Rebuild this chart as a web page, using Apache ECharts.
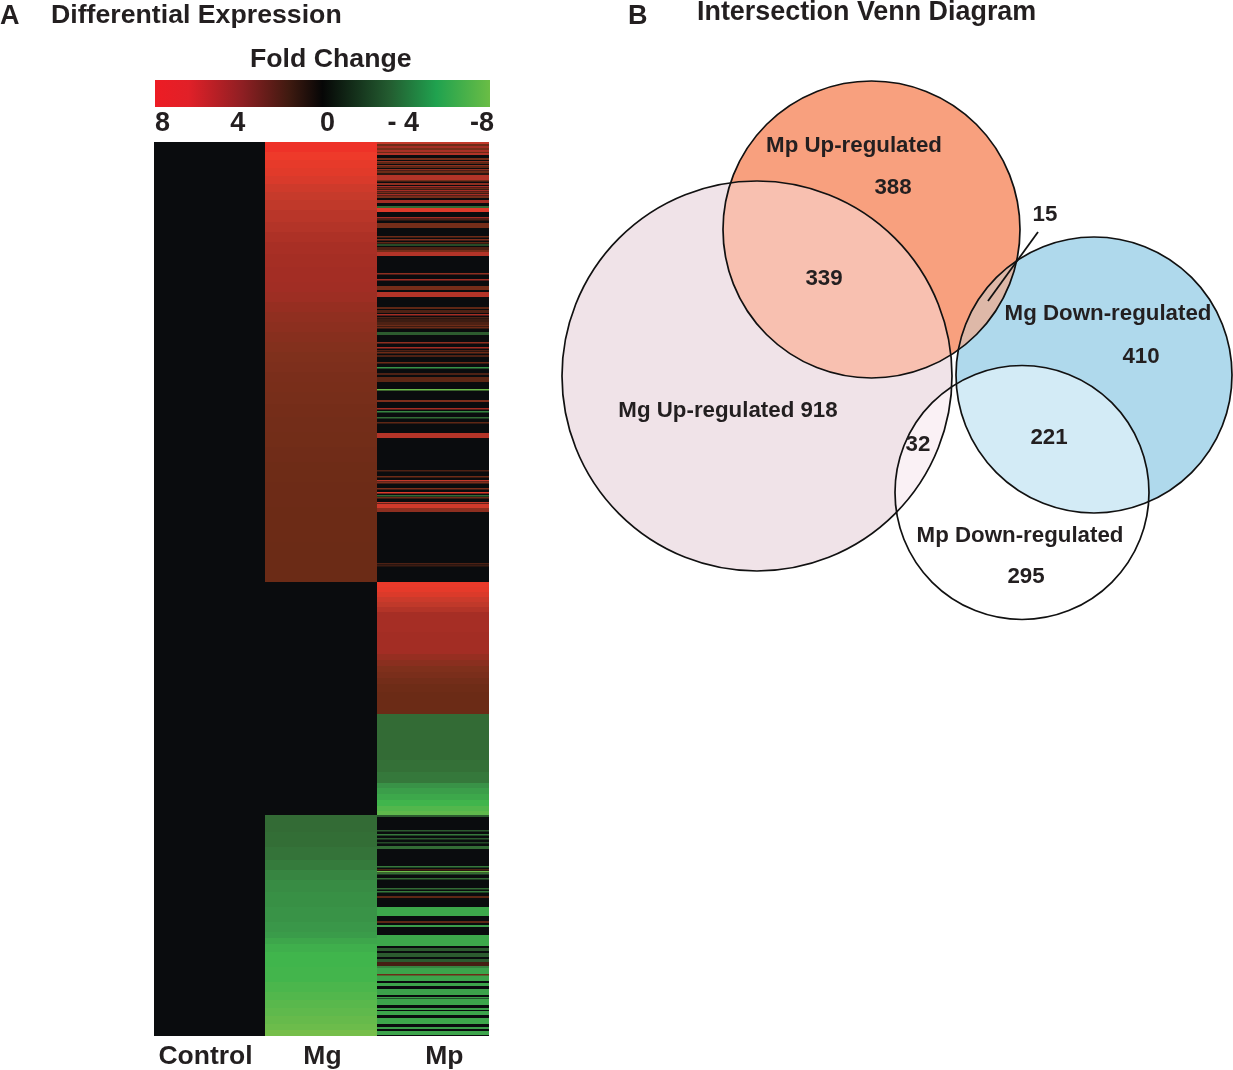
<!DOCTYPE html>
<html><head><meta charset="utf-8">
<style>html,body{margin:0;padding:0;background:#fff}#c{width:1233px;height:1070px}</style>
<script src="https://cdn.jsdelivr.net/npm/echarts@6/dist/echarts.min.js"></script>
</head><body><div id="c"></div>
<script>
const conditions = ['Control','Mg','Mp'];
const rowCount = 894;
// heatmap rows: [first row, end row, fold change]; rows not listed are 0
const controlBands = [[0,894,0]];
const mgBands = [
[0,10,7.7],[10,18,7.6],[18,26,7.3],[26,34,7.1],[34,42,6.8],[42,50,6.4],[50,58,6.1],[58,68,5.9],[68,80,5.7],[80,90,5.5],[90,100,5.3],[100,112,5.15],[112,125,5.05],[125,140,5],[140,150,4.95],[150,160,4.85],[160,170,4.7],[170,180,4.55],[180,190,4.45],[190,200,4.35],[200,210,4.25],[210,220,4.1],[220,230,3.95],[230,240,3.8],[240,250,3.7],[250,262,3.6],[262,275,3.5],[275,290,3.4],[290,305,3.3],[305,320,3.2],[320,340,3.1],[340,365,3],[365,400,2.95],[400,440,2.9],
[673,690,-3],[690,705,-3.1],[705,718,-3.3],[718,728,-3.6],[728,738,-4],[738,750,-4.25],[750,765,-4.4],[765,780,-4.55],[780,790,-4.7],[790,796,-4.9],[796,802,-5.4],[802,810,-5.9],[810,825,-6.2],[825,840,-6.3],[840,850,-6.5],[850,858,-6.7],[858,866,-6.9],[866,874,-7.1],[874,882,-7.3],[882,888,-7.5],[888,894,-7.8]];
const mpBands = [
[0,2,6],[2,4,3],[4,6,5],[6,8,3.5],[8,10,5.2],[10,11,3],[11,13,5.5],
[16,18,3.5],[19,20,4.5],[20,22,2.5],[23,24,4.5],[24,26,2.5],[27,28,4.5],[29,31,3],[31,33,1],[33,38,5.5],[38,39,3.5],
[41,43,4.5],[44,45,5],[46,47,3],[48,49,5],[50,51,3.5],[52,53,5],[54,56,3.5],[58,61,5],[64,66,-3],[66,70,7],
[75,76,5],[77,78,2],[81,86,3.5],[94,95,3],[97,98,4],[100,101,2.5],[102,104,-2],[105,108,2],[108,110,3.5],[110,114,5.5],
[131,132,4.5],[137,138,5],[144,148,3.5],[150,155,5.5],[165,167,2.5],[168,171,2],[172,173,5],[175,176,2],[177,180,1.5],[180,183,2],[183,184,3],[185,186,3],[190,193,-2.5],
[200,201,4.5],[205,206,5],[208,209,2],[210,211,3],[213,215,2],[220,221,3],[225,226,-4.5],[231,233,2],[235,240,2.5],[247,248,-7.5],[258,260,4],[266,267,5],[269,270,-4],[275,276,-3],[280,281,2.5],[291,296,5.5],
[328,329,2],[334,335,3],[338,339,6],[340,341,4],[346,347,4],[350,351,7],[353,354,-3],[355,356,3],[360,361,6],[362,366,6.5],[366,370,4.5],[421,422,2],[423,424,1.5],
[440,445,7.5],[445,450,7.3],[450,455,6.9],[455,460,6.3],[460,465,5.9],[465,470,5.5],[470,490,5.1],[490,512,5],[512,518,4.7],[518,524,4.4],[524,530,4.1],[530,536,3.8],[536,542,3.4],[542,550,3.1],[550,572,2.9],
[572,618,-3],[618,630,-3.2],[630,641,-3.5],[641,646,-4.5],[646,652,-5],[652,658,-5.5],[658,664,-6.2],[664,669,-6.7],[669,673,-7.1],
[673,675,-2.5],[688,689,-2.5],[692,693,-3.5],[696,697,-2.5],[700,701,-2],[704,707,-3],[724,725,-3.5],[727,728,2],[729,730,-7.5],[731,732,-3],[736,737,-3],[746,747,-3],[749,750,-3.5],[754,756,2.5],[765,774,-5.5],
[779,781,2.5],[783,785,-5],[793,804,-5.5],[806,809,-2.5],[811,815,-2.5],[817,820,-2.5],[820,824,1.8],[824,826,-4],
[826,839,-5.3],[832,833,3],[841,844,-5.3],[847,853,-5.2],[855,856,-5],[857,863,-5.3],[866,868,-5],[869,873,-5.3],[876,882,-5.4],[885,887,-5],[889,893,-5.3]];
// fold change to colour
const foldStops = [-8,-7,-6.2,-4.8,-3,0,2.9,4.2,5,6,7.6,8];
const foldColors = ['#7cc04a','#5cb84c','#40b54c','#3a9a4a','#336b35','#0a0c0e','#6b2b16','#81301d','#a32d24','#c33a2b','#ee3a2a','#ed1c24'];
// colour bar
const barTicks = [8,4,0,-4,-8];
const barTickText = ['8','4','0','- 4','-8'];
const barTickStyle = ['p8','p4','p0','pm4','pm8'];
const barOffsets = [0,.1,.26,.4,.5,.7,.84,1];
const barColors = ['#ed1c24','#e12028','#8f1f23','#3f1a10','#060606','#235c30','#20a24f','#6abd45'];
// Venn: [cx, cy, r, fill] in diagram units
const vennSets = ['Mg Up-regulated','Mp Up-regulated','Mg Down-regulated','Mp Down-regulated'];
const vennCx = [757,871.5,1094,1022];
const vennCy = [376,229.5,375,492.5];
const vennR = [195,148.5,138,127];
const vennFills = ['#f0e3e8','#f8a07e','#afd9ec','#ffffff'];
// overlaps: [set a, set b, fill]
const vennOverlaps = [[0,1,'#f8c0b0'],[1,2,'#deb8a8'],[2,3,'#d3ebf6'],[0,3,'#faf1f5']];
const vennTexts = [
['Mp Up-regulated',854,146],['388',893,188],['339',824,279],['Mg Up-regulated 918',728,411],
['Mg Down-regulated',1108,314],['410',1141,357],['221',1049,438],['32',918,445],
['Mp Down-regulated',1020,536],['295',1026,577],['15',1045,215]];
const leader15 = [[1038,232],[988,301]];

const ink = '#231f20', F = '"Liberation Sans",Arial,sans-serif';
function hexRgb(h){return [1,3,5].map(i=>parseInt(h.substr(i,2),16));}
function foldColor(v){
  let i=0; while(i<foldStops.length-2 && v>foldStops[i+1]) i++;
  const t=(v-foldStops[i])/(foldStops[i+1]-foldStops[i]);
  const a=hexRgb(foldColors[i]),b=hexRgb(foldColors[i+1]);
  return 'rgb('+a.map((x,k)=>Math.round(x+(b[k]-x)*t)).join(',')+')';
}
const heatData=[];
[controlBands,mgBands,mpBands].forEach((bands,c)=>{
  heatData.push([c,0,rowCount,0]);
  bands.forEach(b=>heatData.push([c,b[0],b[1],b[2]]));
});
const offsetsPad={Control:[0,8,0,0],Mg:[0,0,0,2],Mp:[0,0,0,22]};
const rich={};conditions.forEach(n=>rich[n]={padding:offsetsPad[n],fontFamily:F,fontWeight:'bold',fontSize:26.5,color:ink});
const barFont={fontFamily:F,fontWeight:'bold',fontSize:27,color:ink};
const barRich={p8:{...barFont,padding:[0,0,0,15]},p4:{...barFont,padding:[0,2,0,0]},p0:{...barFont,padding:[0,0,0,10]},pm4:{...barFont,padding:[0,6,0,0]},pm8:{...barFont,padding:[0,16,0,0]}};
const T=(text,left,top,size)=>({text,left,top,padding:0,textStyle:{fontFamily:F,fontWeight:'bold',fontSize:size,color:ink}});
const chart=echarts.init(document.getElementById('c'),null,{renderer:'canvas'});
function circle(api,i){
  const p=api.coord([vennCx[i],vennCy[i]]);
  const r=api.size([vennR[i],0])[0];
  return {cx:p[0],cy:p[1],r};
}
chart.setOption({
  animation:false,backgroundColor:'#fff',
  title:[T('A',0,3,27),T('Differential Expression',51,2,26.7),T('Fold Change',250,46,26.7),T('B',628,3,27),T('Intersection Venn Diagram',697,-1,26.9)],
  grid:[
    {left:153.6,top:142,width:335.7,height:894},
    {left:155,top:80,width:335,height:27},
    {left:0,top:0,width:1233,height:1070}
  ],
  xAxis:[
    {gridIndex:0,type:'category',data:conditions,axisLine:{show:false},axisTick:{show:false},splitLine:{show:false},
     axisLabel:{interval:0,margin:7,formatter:v=>'{'+v+'|'+v+'}',rich}},
    {gridIndex:1,type:'value',min:-8,max:8,interval:4,inverse:true,axisLine:{show:false},axisTick:{show:false},splitLine:{show:false},
     axisLabel:{margin:3,alignMinLabel:'center',alignMaxLabel:'center',showMinLabel:true,showMaxLabel:true,hideOverlap:false,rich:barRich,
       formatter:v=>{const i=barTicks.indexOf(v);return '{'+barTickStyle[i]+'|'+barTickText[i]+'}';}}},
    {gridIndex:2,type:'value',min:0,max:1233,show:false}
  ],
  yAxis:[
    {gridIndex:0,type:'value',min:0,max:rowCount,inverse:true,show:false},
    {gridIndex:1,type:'value',min:0,max:1,show:false},
    {gridIndex:2,type:'value',min:0,max:1070,inverse:true,show:false}
  ],
  series:[
    {type:'custom',name:'Fold change',xAxisIndex:0,yAxisIndex:0,data:heatData,clip:false,silent:true,
     renderItem(p,api){
       const a=api.coord([api.value(0),api.value(1)]),b=api.coord([api.value(0),api.value(2)]);
       const w=api.size([1,0])[0];
       // column edges snap to whole pixels; thin stripes are drawn a little heavier, as in the printed heat map
       const x0=Math.round(a[0]-w/2-0.1),x1=Math.round(a[0]+w/2-0.1);
       return {type:'rect',shape:{x:x0,y:a[1],width:x1-x0,height:Math.max(b[1]-a[1],1.6)},style:{fill:foldColor(api.value(3))}};
     }},
    {type:'custom',name:'Colour bar',xAxisIndex:1,yAxisIndex:1,data:[[8,0,-8,1]],clip:false,silent:true,
     renderItem(p,api){
       const a=api.coord([api.value(0),api.value(3)]),b=api.coord([api.value(2),api.value(1)]);
       return {type:'rect',shape:{x:a[0],y:a[1],width:b[0]-a[0],height:b[1]-a[1]},
         style:{fill:new echarts.graphic.LinearGradient(0,0,1,0,barOffsets.map((o,i)=>({offset:o,color:barColors[i]})))}};
     }},
    {type:'custom',name:'Venn fill',xAxisIndex:2,yAxisIndex:2,data:vennSets.map((s,i)=>[i]),clip:false,silent:true,
     renderItem(p,api){const i=api.value(0);return {type:'circle',shape:circle(api,i),style:{fill:vennFills[i]}};}},
    {type:'custom',name:'Venn overlap',xAxisIndex:2,yAxisIndex:2,data:vennOverlaps.map((o,i)=>[i]),clip:false,silent:true,
     renderItem(p,api){
       const o=vennOverlaps[api.value(0)];
       return {type:'circle',shape:circle(api,o[0]),style:{fill:o[2]},clipPath:{type:'circle',shape:circle(api,o[1])}};
     }},
    {type:'custom',name:'Venn outline',xAxisIndex:2,yAxisIndex:2,data:vennSets.map((s,i)=>[i]),clip:false,silent:true,
     renderItem(p,api){return {type:'circle',shape:circle(api,api.value(0)),style:{fill:'none',stroke:'#111',lineWidth:1.7}};}},
    {type:'line',name:'15 leader',xAxisIndex:2,yAxisIndex:2,data:leader15,symbol:'none',silent:true,clip:false,lineStyle:{color:'#111',width:1.8}},
    {type:'scatter',name:'Venn labels',xAxisIndex:2,yAxisIndex:2,symbolSize:0,silent:true,clip:false,itemStyle:{opacity:1},
     data:vennTexts.map(t=>({value:[t[1],t[2]],name:t[0]})),
     label:{show:true,position:'inside',formatter:'{b}',fontFamily:F,fontWeight:'bold',fontSize:22.3,color:ink}}
  ]
});
</script></body></html>
